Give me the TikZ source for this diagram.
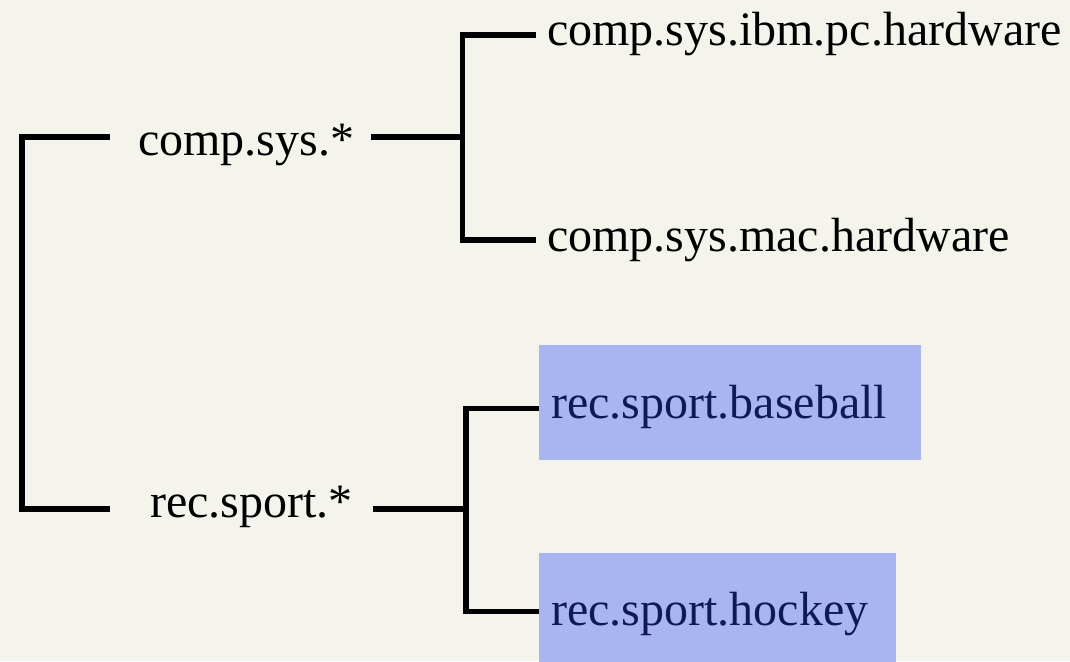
\documentclass[tikz,border=0pt]{standalone}
\usepackage{fontspec}
\setmainfont{Liberation Serif}
\definecolor{bgc}{HTML}{F4F3EC}
\definecolor{boxc}{HTML}{A8B5F0}
\definecolor{navy}{HTML}{0F1A55}
\begin{document}
\begin{tikzpicture}[x=1pt,y=-1pt,
  conn/.style={line width=5.2pt, line join=miter, black},
  lbl/.style={inner sep=0pt, font=\fontsize{48}{56}\selectfont, text=black},
  leaf/.style={inner xsep=11pt, inner ysep=0pt, font=\fontsize{48}{56}\selectfont, text=black},
  hbox/.style={fill=boxc, text=navy, inner xsep=12pt, inner ysep=0pt, anchor=north west,
    align=left, text height=31pt, text depth=0pt, font=\fontsize{48}{56}\selectfont}]
\fill[bgc] (0,0) rectangle (1070,661);
\useasboundingbox (0,0) rectangle (1070,661);
\clip (0,0) rectangle (1070,661);

\node[lbl, anchor=base west] (comp) at (138,155) {comp.sys.*};
\node[lbl, anchor=base west] (rec) at (150,517) {rec.sport.*};
\node[leaf, anchor=base west] (ibm) at (536,46) {comp.sys.ibm.pc.hardware};
\node[leaf, anchor=base west] (mac) at (536,251) {comp.sys.mac.hardware};
\node[hbox, text width=358pt, minimum height=115pt] (base) at (539,345) {rec.sport.baseball};
\node[hbox, text width=333pt, minimum height=117pt, text height=27pt] (hock) at (539,553) {rec.sport.hockey};

\coordinate (cL) at (110,137);
\coordinate (cR) at (371,137);
\coordinate (rL) at (110,509);
\coordinate (rR) at (373,509);
\coordinate (j1) at (462.5,137);
\coordinate (j2) at (466,509);
\coordinate (i1) at ([yshift=11pt]ibm.base west);
\coordinate (m1) at ([yshift=11pt]mac.base west);
\coordinate (b1) at ([yshift=-5.5pt]base.west);

\draw[conn] (cL) -- ++(-88,0) |- (rL);
\draw[conn] (cR) -- (j1);
\draw[conn] (i1) -- (i1 -| j1) -- (m1 -| j1) -- (m1);
\draw[conn] (rR) -- (j2);
\draw[conn] (b1) -- (b1 -| j2) -- (hock.west -| j2) -- (hock.west);
\end{tikzpicture}
\end{document}
